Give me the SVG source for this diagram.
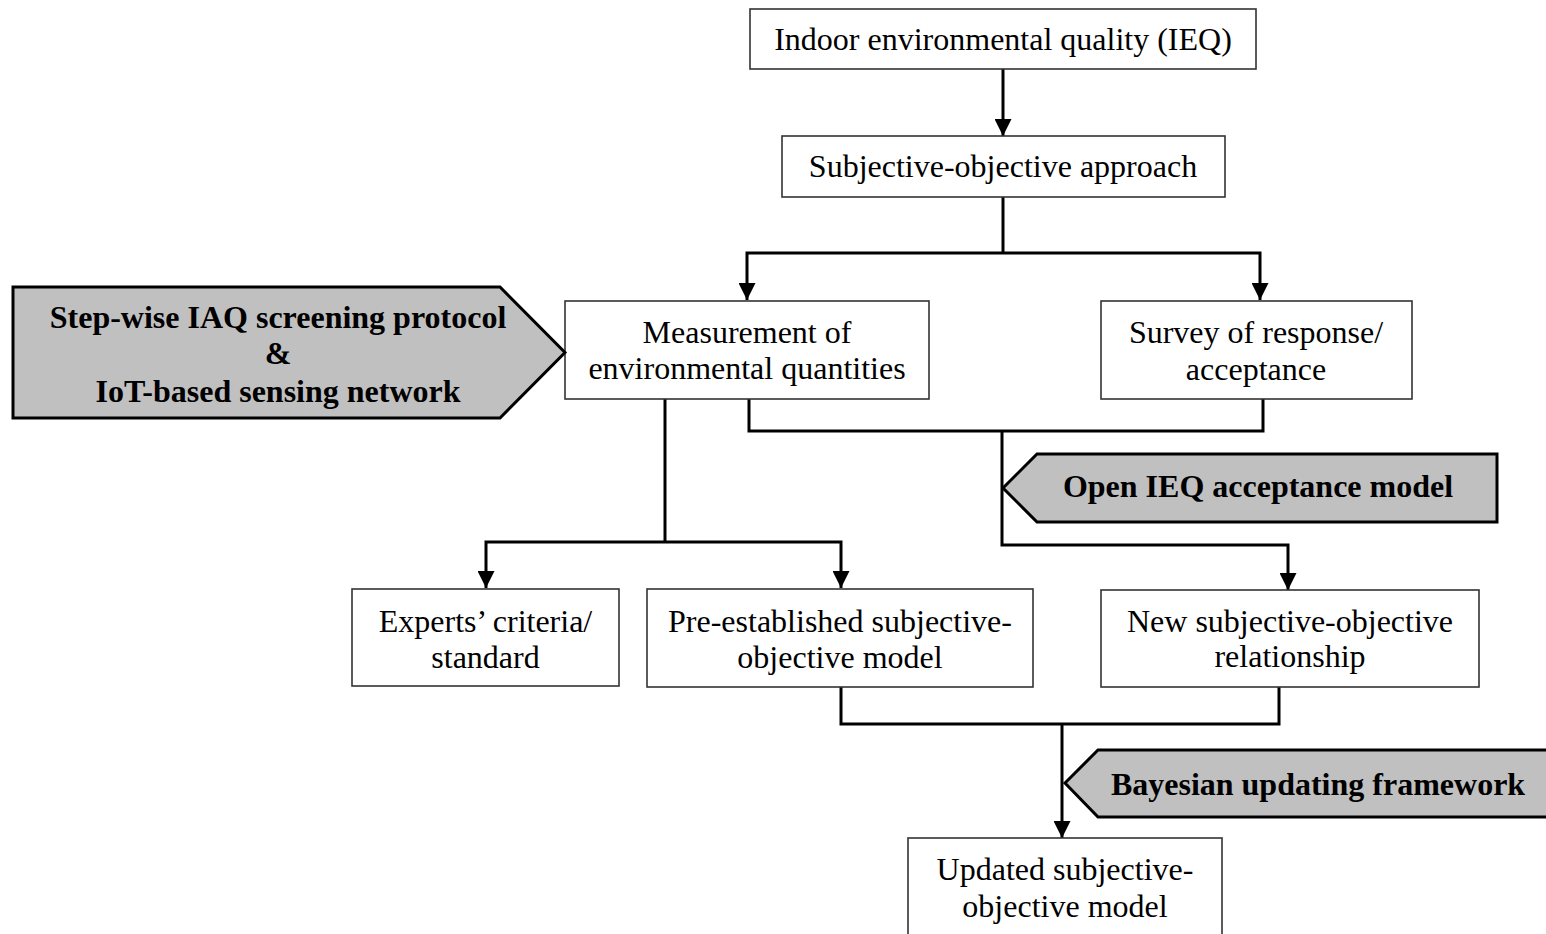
<svg xmlns="http://www.w3.org/2000/svg" width="1546" height="934" viewBox="0 0 1546 934">
<style>
.box{fill:#fff;stroke:#333;stroke-width:1.6}
.tag{fill:#c0c0c0;stroke:#000;stroke-width:3;stroke-linejoin:miter}
.t{font-family:"Liberation Serif","Times New Roman",serif;font-size:32px;fill:#000;text-anchor:middle}
.b{font-weight:bold}
.c{fill:none;stroke:#000;stroke-width:3}
.a{marker-end:url(#ah)}
.a2{marker-start:url(#ah);marker-end:url(#ah)}
</style>
<defs>
<marker id="ah" markerUnits="userSpaceOnUse" markerWidth="17" markerHeight="17" refX="17" refY="8.5" orient="auto-start-reverse" viewBox="0 0 17 17">
<path d="M0,0 L17,8.5 L0,17 z" fill="#000"/>
</marker>
</defs>
<rect width="1546" height="934" fill="#fff"/>
<g id="connectors">
<path class="c a" d="M1003,69 V136"/>
<path class="c" d="M1003,197 V253"/>
<path class="c a2" d="M747,300 V253 H1260 V300"/>
<path class="c" d="M665,399 V542"/>
<path class="c a2" d="M486,588 V542 H841 V588"/>
<path class="c" d="M749,399 V431 H1263 V399"/>
<path class="c a" d="M1002,431 V545 H1288 V590"/>
<path class="c" d="M841,687 V724 H1279 V687"/>
<path class="c a" d="M1062,724 V838"/>
</g>
<g id="ieq">
<rect class="box" x="750" y="9" width="506" height="60"/>
<text class="t" x="1003" y="50">Indoor environmental quality (IEQ)</text>
</g>
<g id="approach">
<rect class="box" x="782" y="136" width="443" height="61"/>
<text class="t" x="1003" y="177">Subjective-objective approach</text>
</g>
<g id="measurement">
<rect class="box" x="565" y="301" width="364" height="98"/>
<text class="t" x="747" y="343">Measurement of</text>
<text class="t" x="747" y="379">environmental quantities</text>
</g>
<g id="survey">
<rect class="box" x="1101" y="301" width="311" height="98"/>
<text class="t" x="1256" y="343">Survey of response/</text>
<text class="t" x="1256" y="380">acceptance</text>
</g>
<g id="iaq-protocol">
<path class="tag" d="M13,287 H500 L565,352.5 L500,418 H13 Z"/>
<text class="t b" x="278" y="328">Step-wise IAQ screening protocol</text>
<text class="t b" x="278" y="364">&amp;</text>
<text class="t b" x="278" y="402">IoT-based sensing network</text>
</g>
<g id="open-ieq">
<path class="tag" d="M1003,488 L1037,454 H1497 V522 H1037 Z"/>
<text class="t b" x="1258" y="497">Open IEQ acceptance model</text>
</g>
<g id="experts">
<rect class="box" x="352" y="589" width="267" height="97"/>
<text class="t" x="485.5" y="632">Experts’ criteria/</text>
<text class="t" x="485.5" y="668">standard</text>
</g>
<g id="pre-established">
<rect class="box" x="647" y="589" width="386" height="98"/>
<text class="t" x="840" y="632">Pre-established subjective-</text>
<text class="t" x="840" y="668">objective model</text>
</g>
<g id="new-relationship">
<rect class="box" x="1101" y="590" width="378" height="97"/>
<text class="t" x="1290" y="632">New subjective-objective</text>
<text class="t" x="1290" y="667">relationship</text>
</g>
<g id="bayesian">
<path class="tag" d="M1065,783 L1098,750 H1560 V817 H1098 Z"/>
<text class="t b" x="1318" y="795">Bayesian updating framework</text>
</g>
<g id="updated">
<rect class="box" x="908" y="838" width="314" height="110"/>
<text class="t" x="1065" y="880">Updated subjective-</text>
<text class="t" x="1065" y="917">objective model</text>
</g>
</svg>
